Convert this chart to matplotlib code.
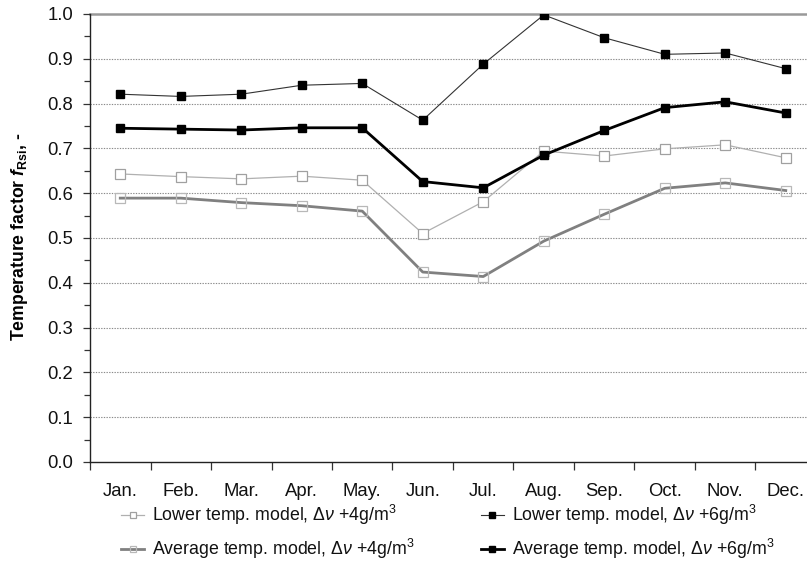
"""Temperature factor f_Rsi per month for the four moisture / temperature models."""

import numpy as np
import matplotlib
matplotlib.use('Agg')
import matplotlib.pyplot as plt
from matplotlib.ticker import MultipleLocator, FixedLocator

months = ['Jan.', 'Feb.', 'Mar.', 'Apr.', 'May.', 'Jun.',
          'Jul.', 'Aug.', 'Sep.', 'Oct.', 'Nov.', 'Dec.']

lower_4 = [0.643, 0.637, 0.632, 0.638, 0.629, 0.510,
           0.581, 0.694, 0.683, 0.699, 0.708, 0.679]
average_4 = [0.589, 0.589, 0.579, 0.572, 0.560, 0.424,
             0.414, 0.493, 0.553, 0.611, 0.623, 0.606]
lower_6 = [0.821, 0.816, 0.821, 0.841, 0.845, 0.763,
           0.888, 0.998, 0.947, 0.910, 0.913, 0.878]
average_6 = [0.745, 0.743, 0.741, 0.746, 0.746, 0.626,
             0.612, 0.685, 0.740, 0.791, 0.804, 0.779]

plt.rcParams['font.family'] = ['Liberation Sans', 'DejaVu Sans']
plt.rcParams['mathtext.fontset'] = 'custom'
plt.rcParams['mathtext.rm'] = 'Liberation Sans'
plt.rcParams['mathtext.it'] = 'Liberation Sans:italic'
plt.rcParams['mathtext.bf'] = 'Liberation Sans:bold'
plt.rcParams['mathtext.bfit'] = 'Liberation Sans:italic:bold'

FS = 13.3


def main():
    W, H = 807, 563
    fig = plt.figure(figsize=(W / 100, H / 100), dpi=100)
    ax = fig.add_axes([90 / W, 1 - 462 / H, 726 / W, 448 / H])

    x = np.arange(len(months))

    ax.plot(x, lower_4, color='#b0b0b0', lw=0.9, marker='s', ms=6.5,
            mfc='white', mec='#a0a0a0', mew=0.9, zorder=3,
            label=r'Lower temp. model, $\Delta\nu$ +4g/m$^3$')
    ax.plot(x, average_4, color='#808080', lw=2.0, marker='s', ms=6.5,
            mfc='none', mec='#b8b8b8', mew=0.9, zorder=3,
            label=r'Average temp. model, $\Delta\nu$ +4g/m$^3$')
    ax.plot(x, lower_6, color='#333333', lw=0.8, marker='s', ms=6.2,
            mfc='black', mec='black', zorder=4,
            label=r'Lower temp. model, $\Delta\nu$ +6g/m$^3$')
    ax.plot(x, average_6, color='black', lw=2.0, marker='s', ms=6.2,
            mfc='black', mec='black', zorder=4,
            label=r'Average temp. model, $\Delta\nu$ +6g/m$^3$')

    ax.set_xlim(-0.5, len(months) - 0.5)
    ax.set_ylim(0, 1.0)

    # y axis
    ax.yaxis.set_major_locator(FixedLocator(np.arange(0, 1.01, 0.1)))
    ax.yaxis.set_minor_locator(MultipleLocator(0.05))
    ax.set_yticklabels([f'{v:.1f}' for v in np.arange(0, 1.01, 0.1)])
    ax.tick_params(axis='y', which='major', length=5, width=0.9,
                   color='#333333', pad=7, labelsize=FS, labelcolor='#111111')
    ax.tick_params(axis='y', which='minor', length=4, width=0.9, color='#333333')
    for v in np.arange(0.1, 0.95, 0.1):
        ax.axhline(v, color='#8a8a8a', lw=0.8, ls=(0, (1.2, 1.2)), zorder=1)
    ax.axhline(1.0, color='#999999', lw=1.8, zorder=1, clip_on=False)

    # x axis: tick marks between months, labels at centres
    ax.xaxis.set_major_locator(FixedLocator(np.arange(-0.5, len(months), 1.0)))
    ax.xaxis.set_major_formatter(plt.NullFormatter())
    ax.xaxis.set_minor_locator(FixedLocator(x))
    ax.set_xticklabels(months, minor=True)
    ax.tick_params(axis='x', which='major', length=6, width=0.9, color='#333333')
    ax.tick_params(axis='x', which='minor', length=0, pad=15,
                   labelsize=FS, labelcolor='#111111')

    for side in ('top', 'right'):
        ax.spines[side].set_visible(False)
    ax.spines['left'].set_color('#222222')
    ax.spines['bottom'].set_color('#222222')
    ax.spines['left'].set_linewidth(1.0)
    ax.spines['bottom'].set_linewidth(1.0)

    fig.text(20 / W, 1 - 237 / H,
             r'Temperature factor $\mathbfit{f}_{\mathbf{Rsi}}$, -',
             rotation=90, ha='center', va='center',
             fontweight='bold', fontsize=12.7)

    handles, labels = ax.get_legend_handles_labels()
    fig.legend(handles, labels, loc='upper left', ncol=2, frameon=False,
               bbox_to_anchor=(121 / W, 1 - 503 / H), fontsize=12.8,
               handlelength=1.3, handletextpad=0.45, columnspacing=3.7,
               labelspacing=0.55, borderaxespad=0, borderpad=0,
               markerscale=0.7, labelcolor='#111111')

    fig.savefig('out.png', dpi=100)


if __name__ == '__main__':
    main()
